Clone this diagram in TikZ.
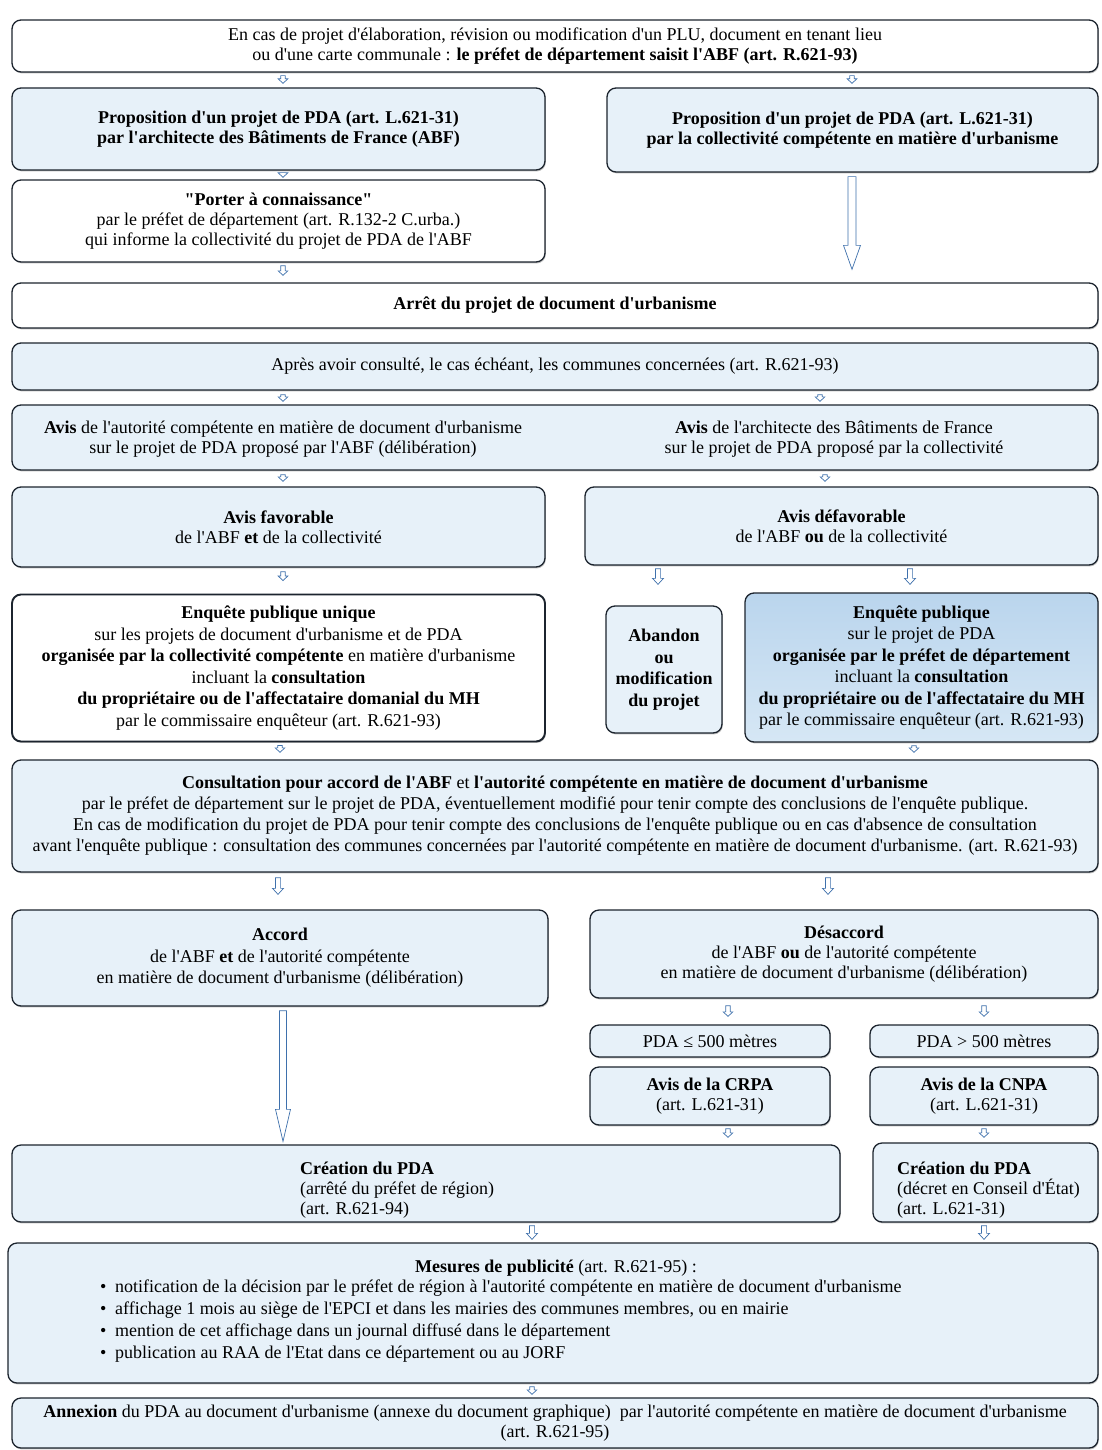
\documentclass[tikz,border=0pt]{standalone}
\usepackage{fontspec}
\setmainfont{Liberation Serif}[Ligatures=TeXOff]
\usetikzlibrary{calc,shadows}
\definecolor{pale}{RGB}{231,241,249}
\definecolor{edge}{RGB}{28,36,46}
\definecolor{arrblue}{RGB}{62,112,172}
\definecolor{deeptop}{RGB}{186,213,237}
\definecolor{deepbot}{RGB}{214,231,245}
\newcommand\fs{\fontsize{18}{20}\selectfont}
\newcommand\fsl{\fontsize{18}{21.5}\selectfont}
\tikzset{
 box/.style={draw=edge, line width=1.3pt, rounded corners=9pt, fill=pale, inner sep=0pt, align=center, font=\fs,
   drop shadow={shadow xshift=0.8pt, shadow yshift=-1.4pt, fill=black!45, opacity=0.55}},
 wbox/.style={box, fill=white},
 txt/.style={inner sep=0pt, align=center, font=\fs},
 arr/.style={draw=arrblue, fill=white, line width=0.7pt, line join=miter},
}
% x, from, to, shaft half, head half, head length, gap start, gap end
\newcommand\harrow[8]{%
 \path[arr] let \p1=(#2), \p2=(#3) in
  (#1pt-#4pt,\y1-#7pt) -- (#1pt+#4pt,\y1-#7pt) -- (#1pt+#4pt,\y2+#8pt+#6pt)
  -- (#1pt+#5pt,\y2+#8pt+#6pt) -- (#1pt,\y2+#8pt) -- (#1pt-#5pt,\y2+#8pt+#6pt)
  -- (#1pt-#4pt,\y2+#8pt+#6pt) -- cycle;}
\newcommand\sarrow[5]{\harrow{#1}{#2}{#3}{2.2}{4.8}{4.5}{#4}{#5}}
\newcommand\marrow[5]{\harrow{#1}{#2}{#3}{2.6}{5.5}{6}{#4}{#5}}

\begin{document}
\begin{tikzpicture}[x=1pt,y=-1pt]
\useasboundingbox (0,0) rectangle (1102,1450);
\fill[white] (0,0) rectangle (1102,1450);

\node[wbox, minimum width=1086, minimum height=52] (top) at (555,46)
 {En cas de projet d'élaboration, révision ou modification d'un PLU, document en tenant lieu\\ou d'une carte communale : \textbf{le préfet de département saisit l'ABF (art. R.621-93)}};

\node[box, minimum width=533, minimum height=82] (pdaL) at (278.5,129)
 {\textbf{Proposition d'un projet de PDA (art. L.621-31)}\\\textbf{par l'architecte des Bâtiments de France (ABF)}};
\node[box, minimum width=491, minimum height=84] (pdaR) at (852.5,130)
 {\textbf{Proposition d'un projet de PDA (art. L.621-31)}\\\textbf{par la collectivité compétente en matière d'urbanisme}};

\node[wbox, minimum width=533, minimum height=82] (porter) at (278.5,221)
 {\textbf{"Porter à connaissance"}\\par le préfet de département (art. R.132-2 C.urba.)\\qui informe la collectivité du projet de PDA de l'ABF};

\node[wbox, minimum width=1086, minimum height=45] (arret) at (555,305.5)
 {\textbf{Arrêt du projet de document d'urbanisme}};

\node[box, minimum width=1086, minimum height=47] (apres) at (555,366.5)
 {Après avoir consulté, le cas échéant, les communes concernées (art. R.621-93)};

\node[box, minimum width=1086, minimum height=65] (avis) at (555,437.5) {};
\node[txt] (avisL) at (283,439)
 {\textbf{Avis} de l'autorité compétente en matière de document d'urbanisme\\sur le projet de PDA proposé par l'ABF (délibération)};
\node[txt] (avisR) at (834,439)
 {\textbf{Avis} de l'architecte des Bâtiments de France\\sur le projet de PDA proposé par la collectivité};

\node[box, minimum width=533, minimum height=80] (fav) at (278.5,527)
 {\textbf{Avis favorable}\\de l'ABF \textbf{et} de la collectivité};
\node[box, minimum width=513, minimum height=78] (defav) at (841.5,526)
 {\textbf{Avis défavorable}\\de l'ABF \textbf{ou} de la collectivité};

\node[wbox, line width=1.9pt, font=\fsl, minimum width=533, minimum height=147] (enqU) at (278.5,668)
 {\textbf{Enquête publique unique}\\sur les projets de document d'urbanisme et de PDA\\\textbf{organisée par la collectivité compétente} en matière d'urbanisme\\incluant la \textbf{consultation}\\\textbf{du propriétaire ou de l'affectataire domanial du MH}\\par le commissaire enquêteur (art. R.621-93)};

\node[box, font=\fsl, minimum width=116, minimum height=127] (aband) at (664,669.5)
 {\textbf{Abandon}\\\textbf{ou}\\\textbf{modification}\\\textbf{du projet}};

\node[box, top color=deeptop, bottom color=deepbot, font=\fsl, minimum width=353, minimum height=149] (enqP) at (921.5,667.5)
 {\textbf{Enquête publique}\\sur le projet de PDA\\\textbf{organisée par le préfet de département}\\incluant la \textbf{consultation}\\\textbf{du propriétaire ou de l'affectataire du MH}\\par le commissaire enquêteur (art. R.621-93)};

\node[box, font=\fontsize{18}{21}\selectfont, minimum width=1086, minimum height=112] (consult) at (555,816)
 {\textbf{Consultation pour accord de l'ABF} et \textbf{l'autorité compétente en matière de document d'urbanisme}\\par le préfet de département sur le projet de PDA, éventuellement modifié pour tenir compte des conclusions de l'enquête publique.\\En cas de modification du projet de PDA pour tenir compte des conclusions de l'enquête publique ou en cas d'absence de consultation\\avant l'enquête publique : consultation des communes concernées par l'autorité compétente en matière de document d'urbanisme. (art. R.621-93)};

\node[box, font=\fsl, minimum width=536, minimum height=96] (accord) at (280,958)
 {\textbf{Accord}\\de l'ABF \textbf{et} de l'autorité compétente\\en matière de document d'urbanisme (délibération)};
\node[box, minimum width=508, minimum height=88] (desacc) at (844,954)
 {\textbf{Désaccord}\\de l'ABF \textbf{ou} de l'autorité compétente\\en matière de document d'urbanisme (délibération)};

\node[box, minimum width=240, minimum height=32] (le5) at (710,1041) {PDA ≤ 500 mètres};
\node[box, minimum width=228, minimum height=32] (gt5) at (984,1041) {PDA > 500 mètres};

\node[box, minimum width=240, minimum height=58] (crpa) at (710,1096)
 {\textbf{Avis de la CRPA}\\(art. L.621-31)};
\node[box, minimum width=228, minimum height=58] (cnpa) at (984,1096)
 {\textbf{Avis de la CNPA}\\(art. L.621-31)};

\node[box, minimum width=828, minimum height=77] (creaL) at (426,1183.5) {};
\node[txt, align=left, anchor=west] (creaLt) at (300,1190)
 {\textbf{Création du PDA}\\(arrêté du préfet de région)\\(art. R.621-94)};
\node[box, minimum width=225, minimum height=79] (creaR) at (985.5,1182.5) {};
\node[txt, align=left, anchor=west] (creaRt) at (897,1190)
 {\textbf{Création du PDA}\\(décret en Conseil d'État)\\(art. L.621-31)};

\node[box, minimum width=1090, minimum height=140] (mes) at (553,1313) {};
\node[txt] (mesT) at (556,1268) {\textbf{Mesures de publicité} (art. R.621-95) :};
\node[txt, align=left, anchor=north west, font=\fontsize{18}{22}\selectfont] (mesL) at (100,1280)
 {\makebox[15pt][l]{•}notification de la décision par le préfet de région à l'autorité compétente en matière de document d'urbanisme\\
  \makebox[15pt][l]{•}affichage 1 mois au siège de l'EPCI et dans les mairies des communes membres, ou en mairie\\
  \makebox[15pt][l]{•}mention de cet affichage dans un journal diffusé dans le département\\
  \makebox[15pt][l]{•}publication au RAA de l'Etat dans ce département ou au JORF};

\node[box, minimum width=1086, minimum height=50] (annex) at (555,1423)
 {\textbf{Annexion} du PDA au document d'urbanisme (annexe du document graphique)~ par l'autorité compétente en matière de document d'urbanisme\\(art. R.621-95)};

% arrows
\sarrow{283}{top.south}{pdaL.north}{3}{4}
\sarrow{852}{top.south}{pdaR.north}{3}{4}
\sarrow{283}{pdaL.south}{porter.north}{2}{2}
\sarrow{283}{porter.south}{arret.north}{3}{7}
\harrow{852}{pdaR.south}{arret.north}{4}{8.5}{24}{4}{13}
\sarrow{283}{apres.south}{avis.north}{4}{3}
\sarrow{820}{apres.south}{avis.north}{4}{3}
\sarrow{283}{avis.south}{fav.north}{4}{5}
\sarrow{825}{avis.south}{defav.north}{4}{5}
\sarrow{283}{fav.south}{enqU.north}{4}{13}
\marrow{658}{defav.south}{aband.north}{3}{21}
\marrow{910}{defav.south}{enqP.north}{3}{8}
\sarrow{280}{enqU.south}{consult.north}{3}{7}
\sarrow{914}{enqP.south}{consult.north}{3}{7}
\marrow{278}{consult.south}{accord.north}{5}{15}
\marrow{828}{consult.south}{desacc.north}{5}{15}
\harrow{283}{accord.south}{creaL.north}{3.5}{7.5}{32}{4}{3}
\sarrow{728}{desacc.south}{le5.north}{7}{8}
\sarrow{984}{desacc.south}{gt5.north}{7}{8}
\sarrow{728}{crpa.south}{creaL.north}{3}{7}
\sarrow{984}{cnpa.south}{creaR.north}{3}{5}
\marrow{532}{creaL.south}{mes.north}{3}{3}
\marrow{984}{creaR.south}{mes.north}{3}{3}
\sarrow{532}{mes.south}{annex.north}{3}{3}
\end{tikzpicture}
\end{document}
